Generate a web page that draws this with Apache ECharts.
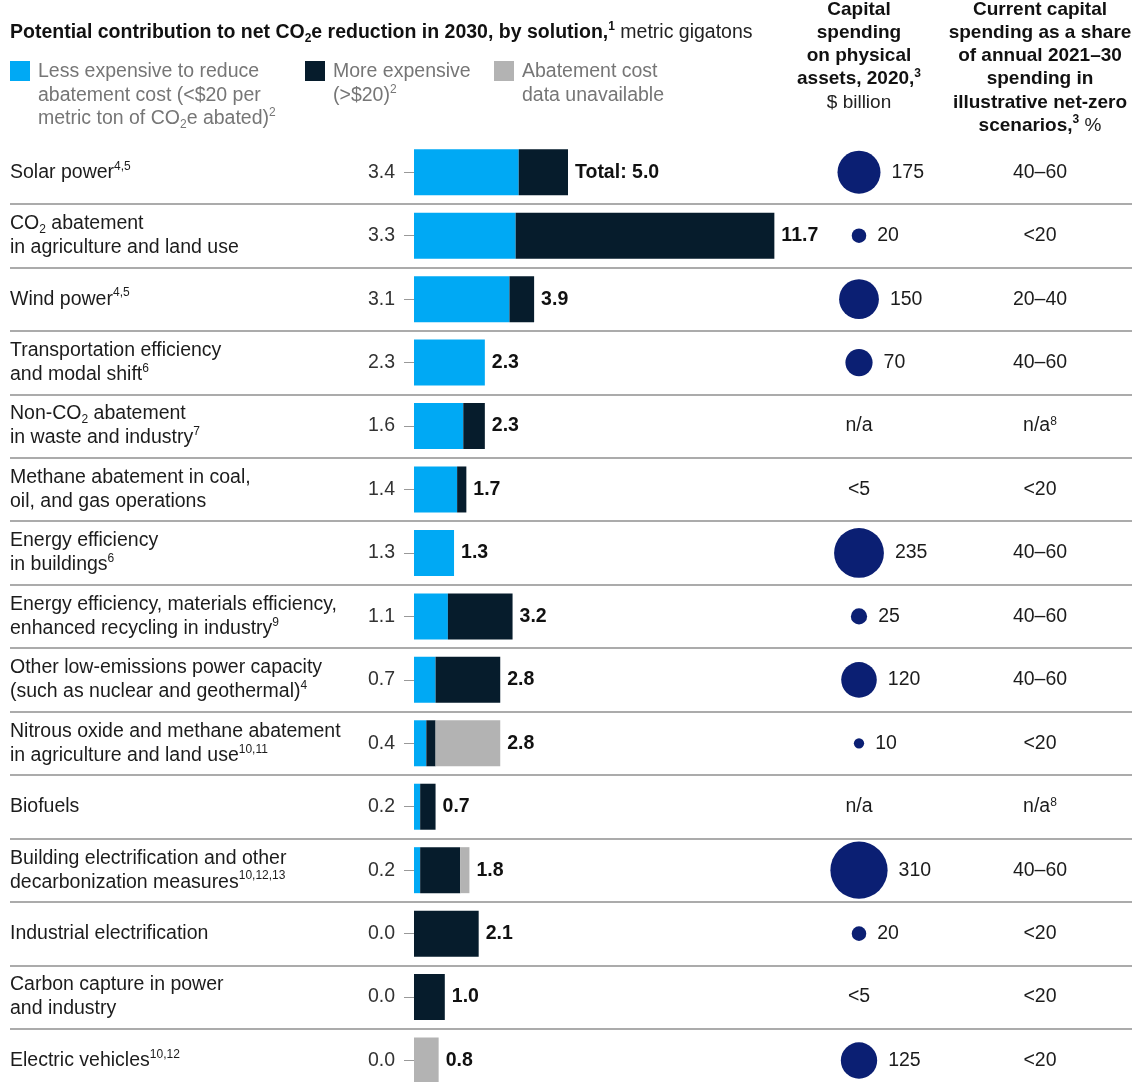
<!DOCTYPE html>
<html>
<head>
<meta charset="utf-8">
<script src="https://cdn.jsdelivr.net/npm/echarts@6/dist/echarts.min.js"></script>
<style>
  html, body { margin: 0; padding: 0; background: #fff; overflow: hidden; }
  /* the last row runs past the bottom edge of the window */
  #chart { width: 1143px; height: 1100px; }
</style>
</head>
<body>
<div id="chart"></div>
<script>
// Solutions, top to bottom. "_2" marks a subscript, "^4,5" marks footnote superscripts.
const solutions = [
  'Solar power^4,5',
  'CO_2 abatement\nin agriculture and land use',
  'Wind power^4,5',
  'Transportation efficiency\nand modal shift^6',
  'Non-CO_2 abatement\nin waste and industry^7',
  'Methane abatement in coal,\noil, and gas operations',
  'Energy efficiency\nin buildings^6',
  'Energy efficiency, materials efficiency,\nenhanced recycling in industry^9',
  'Other low-emissions power capacity\n(such as nuclear and geothermal)^4',
  'Nitrous oxide and methane abatement\nin agriculture and land use^10,11',
  'Biofuels',
  'Building electrification and other\ndecarbonization measures^10,12,13',
  'Industrial electrification',
  'Carbon capture in power\nand industry',
  'Electric vehicles^10,12'
];

// Potential net CO2e reduction in 2030, metric gigatons
const lessExpensive   = [3.4, 3.3, 3.1, 2.3, 1.6, 1.4, 1.3, 1.1, 0.7, 0.4, 0.2, 0.2, 0.0, 0.0, 0.0];
const moreExpensive   = [1.6, 8.4, 0.8, 0.0, 0.7, 0.3, 0.0, 2.1, 2.1, 0.3, 0.5, 1.3, 2.1, 1.0, 0.0];
const costUnavailable = [0.0, 0.0, 0.0, 0.0, 0.0, 0.0, 0.0, 0.0, 0.0, 2.1, 0.0, 0.3, 0.0, 0.0, 0.8];

// Capital spending on physical assets, 2020, $ billion (text where no figure is given)
const capexBillions = [175, 20, 150, 70, 'n/a', '<5', 235, 25, 120, 10, 'n/a', 310, 20, '<5', 125];

// Current capital spending as a share of annual 2021-30 net-zero spending, %
const shareOfNetZero = ['40–60', '<20', '20–40', '40–60', 'n/a^8', '<20', '40–60', '40–60',
                        '40–60', '<20', 'n/a^8', '40–60', '<20', '<20', '<20'];

const totals = lessExpensive.map((v, i) => +(v + moreExpensive[i] + costUnavailable[i]).toFixed(1));

const FONT = "'Liberation Sans', Arial, sans-serif";
const FS = 19.5;
const TEXT = '#1c1c1c';
const GREY_TEXT = '#767676';
const C_LESS = '#00a9f4';
const C_MORE = '#061c2c';
const C_NA = '#b3b3b3';
const C_BUBBLE = '#0b1f73';
const RULE = '#8f8f8f';

const ROW_TOP = 140.5;
const ROW_H = 63.45;
const PLOT_H = ROW_H * solutions.length;
const PX_PER_GT = 30.8;
const X_MAX = 12;
const BUBBLE_K = 3.25;

function markup(s) {
  return s.replace(/_(\d+)/g, '{sub|$1}').replace(/\^([\d,]+)/g, '{sup|$1}');
}

function scriptStyles(color, weight) {
  return {
    sup: { fontSize: 12, lineHeight: 17, verticalAlign: 'top', color: color, fontWeight: weight, fontFamily: FONT },
    sub: { fontSize: 12, lineHeight: 15, verticalAlign: 'bottom', color: color, fontWeight: weight, fontFamily: FONT }
  };
}

const chart = echarts.init(document.getElementById('chart'), null, { renderer: 'canvas' });

const hiddenCategory = (grid) => ({
  gridIndex: grid, type: 'category', data: solutions, inverse: true, show: false
});

chart.setOption({
  animation: false,
  backgroundColor: '#fff',
  textStyle: { fontFamily: FONT },
  grid: [
    { left: 10, width: 1122, top: ROW_TOP, height: PLOT_H },
    { left: 414, width: PX_PER_GT * X_MAX, top: ROW_TOP, height: PLOT_H },
    { left: 809, width: 100, top: ROW_TOP, height: PLOT_H },
    { left: 990, width: 100, top: ROW_TOP, height: PLOT_H }
  ],
  xAxis: [
    { gridIndex: 0, type: 'value', show: false, min: 0, max: 1 },
    { gridIndex: 1, type: 'value', show: false, min: 0, max: X_MAX },
    { gridIndex: 2, type: 'category', data: ['capex'], show: false },
    { gridIndex: 3, type: 'category', data: ['share'], show: false }
  ],
  yAxis: [
    {
      gridIndex: 0, type: 'category', data: solutions, inverse: true,
      axisLine: { show: false }, axisTick: { show: false },
      splitLine: { show: true, interval: 0, showMinLine: false, lineStyle: { color: RULE, width: 1.5 } },
      axisLabel: {
        interval: 0, align: 'left', margin: 0,
        fontSize: FS, lineHeight: 24, color: TEXT, fontFamily: FONT,
        formatter: (v) => markup(v),
        rich: scriptStyles(TEXT, 'normal')
      }
    },
    {
      gridIndex: 1, type: 'category', data: solutions, inverse: true,
      axisLine: { show: false },
      axisTick: { show: true, interval: 0, alignWithLabel: true, length: 10, lineStyle: { color: '#999' } },
      splitLine: { show: false },
      axisLabel: {
        interval: 0, margin: 19, fontSize: FS, color: '#333', fontFamily: FONT,
        formatter: (v, i) => lessExpensive[i].toFixed(1)
      }
    },
    hiddenCategory(2),
    hiddenCategory(3)
  ],
  series: [
    {
      name: 'Less expensive', type: 'bar', xAxisIndex: 1, yAxisIndex: 1, stack: 'gt',
      barWidth: 46, data: lessExpensive, itemStyle: { color: C_LESS }, silent: true
    },
    {
      name: 'More expensive', type: 'bar', xAxisIndex: 1, yAxisIndex: 1, stack: 'gt',
      barWidth: 46, data: moreExpensive, itemStyle: { color: C_MORE }, silent: true
    },
    {
      name: 'Abatement cost data unavailable', type: 'bar', xAxisIndex: 1, yAxisIndex: 1, stack: 'gt',
      barWidth: 46, data: costUnavailable, itemStyle: { color: C_NA }, silent: true
    },
    {
      name: 'Total', type: 'scatter', xAxisIndex: 1, yAxisIndex: 1, silent: true,
      symbolSize: 0, itemStyle: { color: 'transparent', opacity: 1 },
      data: totals.map((t, i) => [t, i]),
      label: {
        show: true, position: 'right', distance: 7,
        fontSize: FS, fontWeight: 'bold', color: '#111', fontFamily: FONT,
        formatter: (p) => (p.dataIndex === 0 ? 'Total: ' : '') + p.value[0].toFixed(1)
      }
    },
    {
      name: 'Capital spending', type: 'scatter', xAxisIndex: 2, yAxisIndex: 2, silent: true,
      itemStyle: { color: C_BUBBLE, opacity: 1 },
      data: capexBillions.map((v, i) => typeof v === 'number'
        ? { value: [0, i], symbolSize: BUBBLE_K * Math.sqrt(v) }
        : { value: [0, i], symbolSize: 0, itemStyle: { color: 'transparent' }, label: { position: 'inside' } }),
      label: {
        show: true, position: 'right', distance: 11,
        fontSize: FS, color: TEXT, fontFamily: FONT,
        formatter: (p) => String(capexBillions[p.dataIndex])
      }
    },
    {
      name: 'Share of net-zero spending', type: 'scatter', xAxisIndex: 3, yAxisIndex: 3, silent: true,
      symbolSize: 0, itemStyle: { color: 'transparent', opacity: 1 },
      data: shareOfNetZero.map((s, i) => [0, i]),
      label: {
        show: true, position: 'inside',
        fontSize: FS, color: TEXT, fontFamily: FONT,
        formatter: (p) => markup(shareOfNetZero[p.dataIndex]),
        rich: scriptStyles(TEXT, 'normal')
      }
    }
  ],
  graphic: [
    // Title
    {
      type: 'text', x: 10, y: 32.5,
      style: {
        text: '{b|Potential contribution to net CO}{bsub|2}{b|e reduction in 2030, by solution,}{bsup|1}{r| metric gigatons}',
        verticalAlign: 'middle',
        rich: {
          b: { fontSize: FS, fontWeight: 'bold', fill: '#111', fontFamily: FONT, lineHeight: 24 },
          r: { fontSize: FS, fill: '#222', fontFamily: FONT, lineHeight: 24 },
          bsub: { fontSize: 12, fontWeight: 'bold', fill: '#111', fontFamily: FONT, lineHeight: 15, verticalAlign: 'bottom' },
          bsup: { fontSize: 12, fontWeight: 'bold', fill: '#111', fontFamily: FONT, lineHeight: 17, verticalAlign: 'top' }
        }
      }
    },
    // Legend
    { type: 'rect', shape: { x: 10, y: 61, width: 20, height: 20 }, style: { fill: C_LESS } },
    {
      type: 'text', x: 38, y: 60,
      style: {
        text: 'Less expensive to reduce\nabatement cost (<$20 per\nmetric ton of CO{sub|2}e abated){sup|2}',
        fill: GREY_TEXT, fontSize: FS, fontFamily: FONT, lineHeight: 23.5, verticalAlign: 'top',
        rich: {
          sup: { fontSize: 12, lineHeight: 17, verticalAlign: 'top', fill: GREY_TEXT, fontFamily: FONT },
          sub: { fontSize: 12, lineHeight: 15, verticalAlign: 'bottom', fill: GREY_TEXT, fontFamily: FONT }
        }
      }
    },
    { type: 'rect', shape: { x: 305, y: 61, width: 20, height: 20 }, style: { fill: C_MORE } },
    {
      type: 'text', x: 333, y: 60,
      style: {
        text: 'More expensive\n(>$20){sup|2}',
        fill: GREY_TEXT, fontSize: FS, fontFamily: FONT, lineHeight: 23.5, verticalAlign: 'top',
        rich: {
          sup: { fontSize: 12, lineHeight: 17, verticalAlign: 'top', fill: GREY_TEXT, fontFamily: FONT }
        }
      }
    },
    { type: 'rect', shape: { x: 494, y: 61, width: 20, height: 20 }, style: { fill: C_NA } },
    {
      type: 'text', x: 522, y: 60,
      style: {
        text: 'Abatement cost\ndata unavailable',
        fill: GREY_TEXT, fontSize: FS, fontFamily: FONT, lineHeight: 23.5, verticalAlign: 'top'
      }
    },
    // Column headers
    {
      type: 'text', x: 859, y: -2,
      style: {
        text: '{b|Capital}\n{b|spending}\n{b|on physical}\n{b|assets, 2020,}{bsup|3}\n{r|$ billion}',
        align: 'center', verticalAlign: 'top',
        rich: {
          b: { fontSize: 19, fontWeight: 'bold', fill: '#111', fontFamily: FONT, lineHeight: 23.2 },
          r: { fontSize: 19, fill: '#222', fontFamily: FONT, lineHeight: 23.2 },
          bsup: { fontSize: 12, fontWeight: 'bold', fill: '#111', fontFamily: FONT, lineHeight: 17, verticalAlign: 'top' }
        }
      }
    },
    {
      type: 'text', x: 1040, y: -2,
      style: {
        text: '{b|Current capital}\n{b|spending as a share}\n{b|of annual 2021–30}\n{b|spending in}\n{b|illustrative net-zero}\n{b|scenarios,}{bsup|3}{r| %}',
        align: 'center', verticalAlign: 'top',
        rich: {
          b: { fontSize: 19, fontWeight: 'bold', fill: '#111', fontFamily: FONT, lineHeight: 23.2 },
          r: { fontSize: 19, fill: '#222', fontFamily: FONT, lineHeight: 23.2 },
          bsup: { fontSize: 12, fontWeight: 'bold', fill: '#111', fontFamily: FONT, lineHeight: 17, verticalAlign: 'top' }
        }
      }
    }
  ]
});
</script>
</body>
</html>
